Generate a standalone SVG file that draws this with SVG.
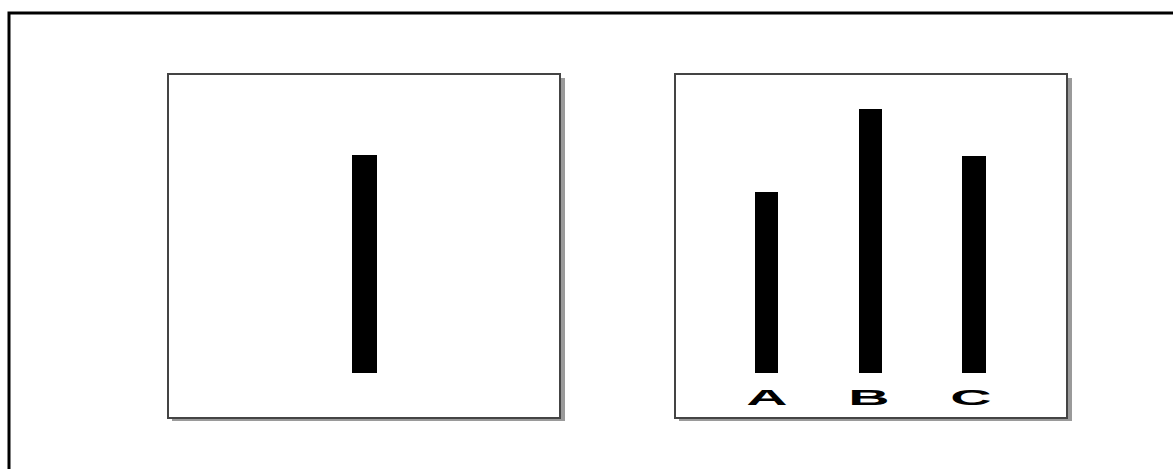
<svg xmlns="http://www.w3.org/2000/svg" width="1173" height="469" viewBox="0 0 1173 469">
<style>
.frame{fill:#fff;stroke:#444;stroke-width:2}
.shadow{fill:#9a9a9a}
.bar{fill:#000}
.lbl{font-family:"Liberation Sans",Arial,sans-serif;font-weight:bold;font-size:22px;fill:#000;text-anchor:middle}
</style>
<rect x="0" y="0" width="1173" height="469" fill="#fff"/>
<rect x="9" y="13" width="1170" height="470" fill="none" stroke="#000" stroke-width="3"/>
<g id="panel-left">
<rect class="shadow" x="561" y="78" width="4" height="343"/>
<rect class="shadow" x="172" y="418" width="393" height="3"/>
<rect class="frame" x="168" y="74" width="392" height="344"/>
<rect class="bar" x="352" y="155" width="25" height="218"/>
</g>
<g id="panel-right">
<rect class="shadow" x="1068" y="78" width="4" height="343"/>
<rect class="shadow" x="679" y="418" width="393" height="3"/>
<rect class="frame" x="675" y="74" width="392" height="344"/>
<rect class="bar" x="755" y="192" width="23" height="181"/>
<rect class="bar" x="859" y="109" width="23" height="264"/>
<rect class="bar" x="962" y="156" width="24" height="217"/>
<text class="lbl" transform="translate(767,405) scale(2.6,1)" x="0" y="0">A</text>
<text class="lbl" transform="translate(869,405) scale(2.6,1)" x="0" y="0">B</text>
<text class="lbl" transform="translate(971,405) scale(2.6,1)" x="0" y="0">C</text>
</g>
</svg>
